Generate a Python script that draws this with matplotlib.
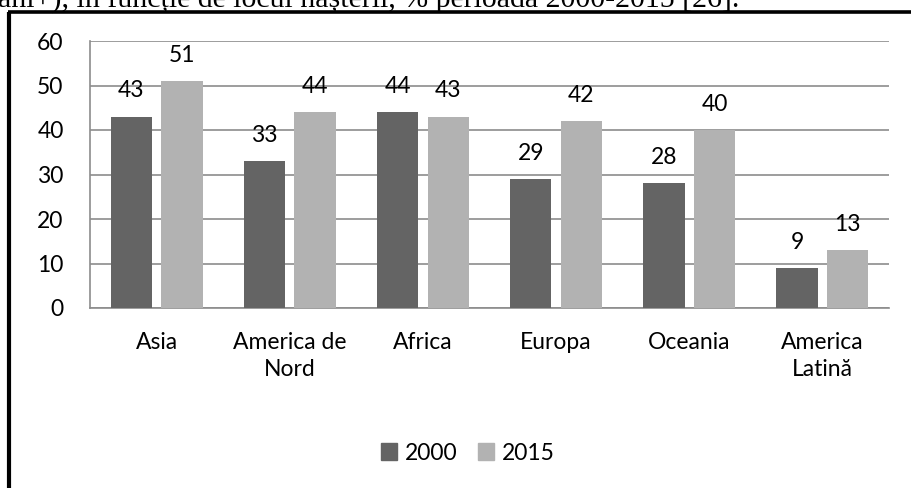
import matplotlib
matplotlib.use('Agg')
import matplotlib.pyplot as plt
import numpy as np
from matplotlib.patches import Patch
from matplotlib.lines import Line2D

# ── Data ─────────────────────────────────────────────────────────────────────
categories = ['Asia', 'America de\nNord', 'Africa', 'Europa', 'Oceania', 'America\nLatină']
vals_2000 = [43, 33, 44, 29, 28, 9]
vals_2015 = [51, 44, 43, 42, 40, 13]
series_names = ['2000', '2015']
yticks = [0, 10, 20, 30, 40, 50, 60]

C2000 = '#646464'
C2015 = '#b2b2b2'
GRID = '#8c8c8c'
FONT = 'Lato'
FS = 16.5

W, H = 911, 488
fig = plt.figure(figsize=(W / 100, H / 100), dpi=100)
fig.patch.set_facecolor('white')

ax = fig.add_axes([90 / W, 1 - 308 / H, (889 - 90) / W, (308 - 41) / H])

x = np.arange(len(categories))
bw = 0.31
off = 0.19
b1 = ax.bar(x - off, vals_2000, bw, color=C2000, zorder=3)
b2 = ax.bar(x + off, vals_2015, bw, color=C2015, zorder=3)

for bars, vals in ((b1, vals_2000), (b2, vals_2015)):
    for r, v in zip(bars, vals):
        ax.annotate(str(v), xy=(r.get_x() + r.get_width() / 2, v),
                    xytext=(0, 11), textcoords='offset points',
                    ha='center', va='bottom', fontsize=FS, family=FONT,
                    color='black', zorder=4)

ax.set_xlim(-0.5, len(categories) - 0.5)
ax.set_ylim(0, 60)
ax.set_yticks(yticks)
ax.yaxis.grid(True, color=GRID, lw=1.2, zorder=0)
ax.set_xticks(x)
ax.set_xticklabels(categories, fontsize=FS, family=FONT, linespacing=1.35)
ax.tick_params(axis='x', length=0, pad=17)
ax.tick_params(axis='y', length=0, pad=19, labelsize=FS)
for lab in ax.get_yticklabels():
    lab.set_family(FONT)
    lab.set_horizontalalignment('right')

for s in ('top', 'right'):
    ax.spines[s].set_visible(False)
ax.spines['left'].set_color(GRID)
ax.spines['bottom'].set_color(GRID)
ax.spines['left'].set_linewidth(1.2)
ax.spines['bottom'].set_linewidth(1.2)

# legend
handles = [Patch(color=C2000, label=series_names[0]),
           Patch(color=C2015, label=series_names[1])]
fig.legend(handles=handles, loc='center', bbox_to_anchor=(468 / W, 1 - 453 / H),
           ncol=2, frameon=False, prop={'family': FONT, 'size': FS},
           handlelength=0.7, handleheight=0.7, handletextpad=0.35,
           columnspacing=0.9)

# outer frame (left + top)
fig.add_artist(Line2D([9 / W, 9 / W], [0, 1 - 11.5 / H], color='black', lw=3,
                      transform=fig.transFigure, solid_capstyle='butt'))
fig.add_artist(Line2D([7.5 / W, 1], [1 - 11.5 / H, 1 - 11.5 / H], color='black', lw=2.6,
                      transform=fig.transFigure, solid_capstyle='butt'))

# cut-off caption line of the page
fig.text(-2 / W, 1 - 8 / H,
         'ani+), în funcție de locul nașterii, % perioada 2000-2015 [26].',
         family='Liberation Serif', fontsize=21.5, ha='left', va='baseline')

fig.savefig('out.png', dpi=100, facecolor='white')
